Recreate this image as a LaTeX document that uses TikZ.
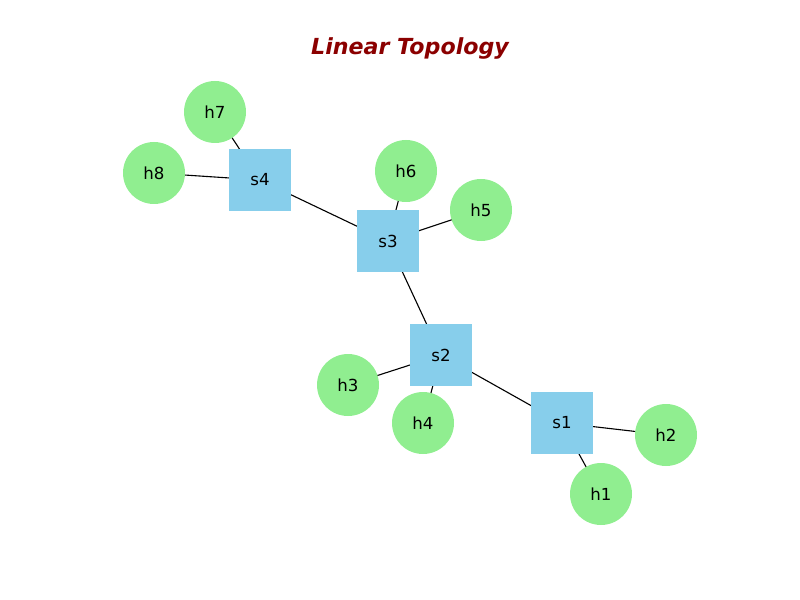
\documentclass[tikz,border=0pt]{standalone}
\usepackage{fontspec}
\setmainfont{DejaVu Sans}
\usetikzlibrary{backgrounds}
\definecolor{skyblue}{HTML}{87CEEB}
\definecolor{lightgreen}{HTML}{90EE90}
\definecolor{darkred}{HTML}{8B0000}
\tikzset{
	switchnode/.style={rectangle, fill=skyblue, minimum size=62*0.254mm, inner sep=0pt, font=\fontsize{12}{14}\selectfont},
	hostnode/.style={circle, fill=lightgreen, minimum size=62*0.254mm, inner sep=0pt, font=\fontsize{12}{14}\selectfont},
	link/.style={draw=black, line width=0.8pt}
}
\begin{document}
\begin{tikzpicture}[x=0.254mm, y=-0.254mm]
		\useasboundingbox (0,0) rectangle (800,600);
		\node[font=\fontsize{16}{19}\selectfont\bfseries\itshape, text=darkred] (title) at (410,48.5) {Linear Topology};
		
		\node[switchnode] (s4) at (260,180) {s4};
		\node[switchnode] (s3) at (388,241) {s3};
		\node[switchnode] (s2) at (441,355) {s2};
		\node[switchnode] (s1) at (562,423) {s1};
		
		\node[hostnode] (h7) at (215,112) {h7};
		\node[hostnode] (h8) at (154,173) {h8};
		\node[hostnode] (h6) at (406,171) {h6};
		\node[hostnode] (h5) at (481,210) {h5};
		\node[hostnode] (h3) at (348,385) {h3};
		\node[hostnode] (h4) at (423,423) {h4};
		\node[hostnode] (h1) at (601,494) {h1};
		\node[hostnode] (h2) at (666,435) {h2};
		
		\begin{scope}[on background layer]
		\draw[link] (s4.center) -- (h7.center);
		\draw[link] (s4.center) -- (h8.center);
		\draw[link] (s4.center) -- (s3.center);
		\draw[link] (s3.center) -- (h6.center);
		\draw[link] (s3.center) -- (h5.center);
		\draw[link] (s3.center) -- (s2.center);
		\draw[link] (s2.center) -- (h3.center);
		\draw[link] (s2.center) -- (h4.center);
		\draw[link] (s2.center) -- (s1.center);
		\draw[link] (s1.center) -- (h2.center);
		\draw[link] (s1.center) -- (h1.center);
		\end{scope}
\end{tikzpicture}
\end{document}
